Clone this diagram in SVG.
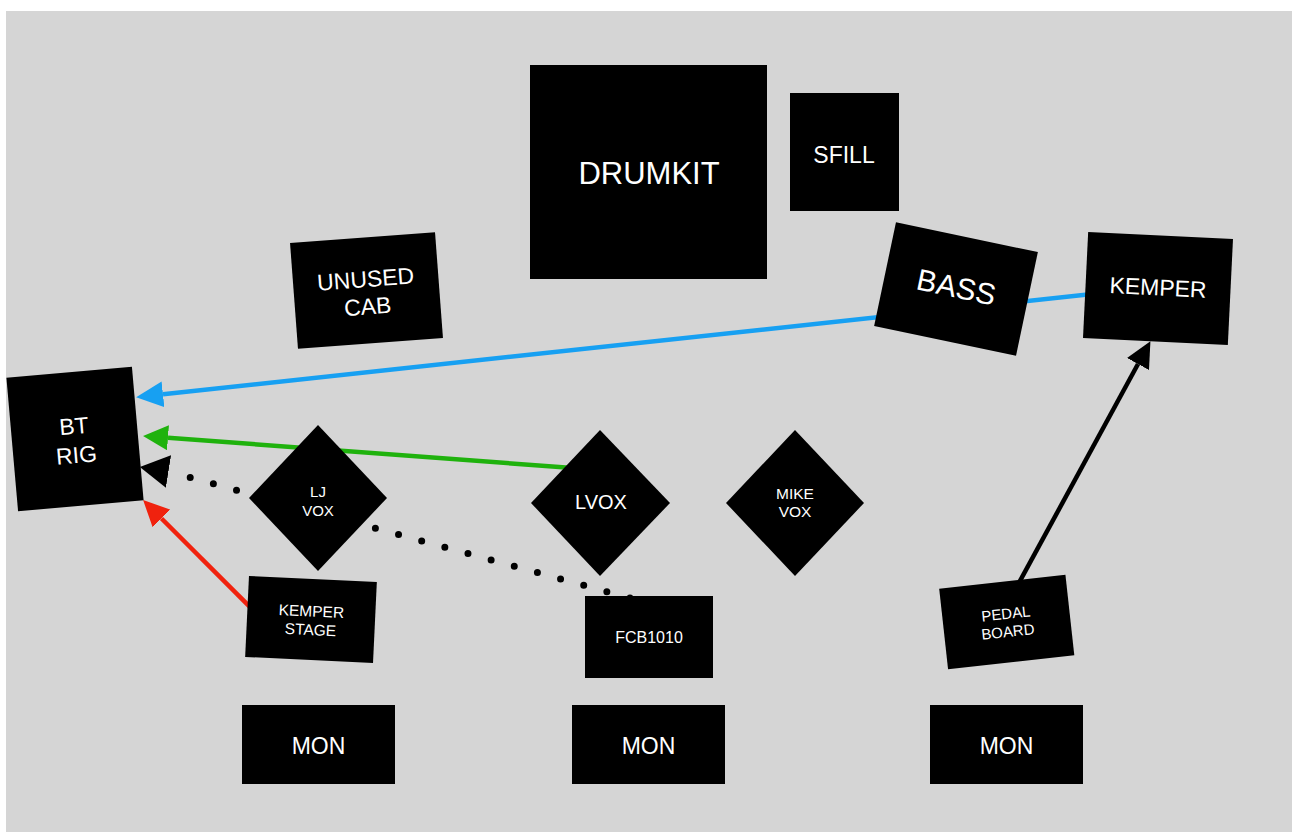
<svg xmlns="http://www.w3.org/2000/svg" width="1292" height="832" viewBox="0 0 1292 832">
<style>
.n{fill:#000}
.t{fill:#fff;font-family:"Liberation Sans",Arial,sans-serif;text-anchor:middle}
.c{fill:none;stroke-width:4.5}
</style>
<defs>
<marker id="aBlue" markerUnits="userSpaceOnUse" markerWidth="27" markerHeight="26" viewBox="0 0 27 26" refX="0" refY="13" orient="auto"><path d="M0,0 L27,13 L0,26 z" fill="#17a0f2"/></marker>
<marker id="aGreen" markerUnits="userSpaceOnUse" markerWidth="25" markerHeight="25" viewBox="0 0 25 25" refX="0" refY="12.5" orient="auto"><path d="M0,0 L25,12.5 L0,25 z" fill="#1fb20d"/></marker>
<marker id="aRed" markerUnits="userSpaceOnUse" markerWidth="26" markerHeight="25" viewBox="0 0 26 25" refX="0" refY="12.5" orient="auto"><path d="M0,0 L26,12.5 L0,25 z" fill="#f0220e"/></marker>
<marker id="aBlack" markerUnits="userSpaceOnUse" markerWidth="26" markerHeight="25" viewBox="0 0 26 25" refX="0" refY="12.5" orient="auto"><path d="M0,0 L26,12.5 L0,25 z" fill="#000"/></marker>
<marker id="aDot" markerUnits="userSpaceOnUse" markerWidth="29" markerHeight="33" viewBox="0 0 29 33" refX="0" refY="16.5" orient="189"><path d="M0,0 L29,16.5 L0,33 z" fill="#000"/></marker>
</defs>
<rect x="6" y="11" width="1286" height="821" fill="#d5d5d5"/>
<g id="connectors">
<path class="c" d="M1120,291 L163,394.3" stroke="#17a0f2" marker-end="url(#aBlue)"/>
<path class="c" d="M600,470 L168,437.8" stroke="#1fb20d" marker-end="url(#aGreen)"/>
<path class="c" d="M262,619 L161.5,518.5" stroke="#f0220e" marker-end="url(#aRed)"/>
<path class="c" d="M1014,592 L1138,364" stroke="#000" marker-end="url(#aBlack)"/>
<path d="M630,598 L168.5,471.5" fill="none" stroke="#000" stroke-width="7" stroke-linecap="round" stroke-dasharray="0 24" marker-end="url(#aDot)"/>
</g>
<g id="drumkit"><rect class="n" x="530" y="65" width="237" height="214"/><text class="t" x="649" y="184" font-size="31">DRUMKIT</text></g>
<g id="sfill"><rect class="n" x="790" y="93" width="109" height="118"/><text class="t" x="844" y="163" font-size="23">SFILL</text></g>
<g id="unused-cab" transform="translate(366.5,290.5) rotate(-4.3)"><rect class="n" x="-72.7" y="-53" width="145.4" height="106"/><text class="t" font-size="23"><tspan x="0" y="-3.5">UNUSED</tspan><tspan x="0" y="24">CAB</tspan></text></g>
<g id="bass" transform="translate(956,289) rotate(11.9)"><rect class="n" x="-72.5" y="-53" width="145" height="106"/><text class="t" x="0" y="8.5" font-size="30">BASS</text></g>
<g id="kemper" transform="translate(1158,288.5) rotate(2.8)"><rect class="n" x="-72.5" y="-53" width="145" height="106"/><text class="t" x="0" y="7" font-size="23">KEMPER</text></g>
<g id="bt-rig" transform="translate(75,439) rotate(-5)"><rect class="n" x="-63" y="-67" width="126" height="134"/><text class="t" font-size="23"><tspan x="0" y="-5">BT</tspan><tspan x="0" y="24">RIG</tspan></text></g>
<g id="lj-vox"><polygon class="n" points="318,425 387,498 318,571 249,498"/><text class="t" font-size="15"><tspan x="318" y="496.7">LJ</tspan><tspan x="318" y="516">VOX</tspan></text></g>
<g id="lvox"><polygon class="n" points="600,430 670,503 600,576 531,503"/><text class="t" x="601" y="509" font-size="20">LVOX</text></g>
<g id="mike-vox"><polygon class="n" points="795,430 864,503 795,576 726,503"/><text class="t" font-size="15.5"><tspan x="795" y="499.3">MIKE</tspan><tspan x="795" y="517.3">VOX</tspan></text></g>
<g id="kemper-stage" transform="translate(311,619.5) rotate(2.7)"><rect class="n" x="-64" y="-40.5" width="128" height="81"/><text class="t" font-size="15.5"><tspan x="0" y="-3">KEMPER</tspan><tspan x="0" y="15.5">STAGE</tspan></text></g>
<g id="fcb1010"><rect class="n" x="585" y="596" width="128" height="82"/><text class="t" x="649" y="643" font-size="16">FCB1010</text></g>
<g id="pedal-board" transform="translate(1006.75,622) rotate(-6.3)"><rect class="n" x="-63.5" y="-40.5" width="127" height="81"/><text class="t" font-size="15"><tspan x="0" y="-3">PEDAL</tspan><tspan x="0" y="15">BOARD</tspan></text></g>
<g id="mon-1"><rect class="n" x="242" y="705" width="153" height="79"/><text class="t" x="318.5" y="754" font-size="23">MON</text></g>
<g id="mon-2"><rect class="n" x="572" y="705" width="153" height="79"/><text class="t" x="648.5" y="754" font-size="23">MON</text></g>
<g id="mon-3"><rect class="n" x="930" y="705" width="153" height="79"/><text class="t" x="1006.5" y="754" font-size="23">MON</text></g>
</svg>
